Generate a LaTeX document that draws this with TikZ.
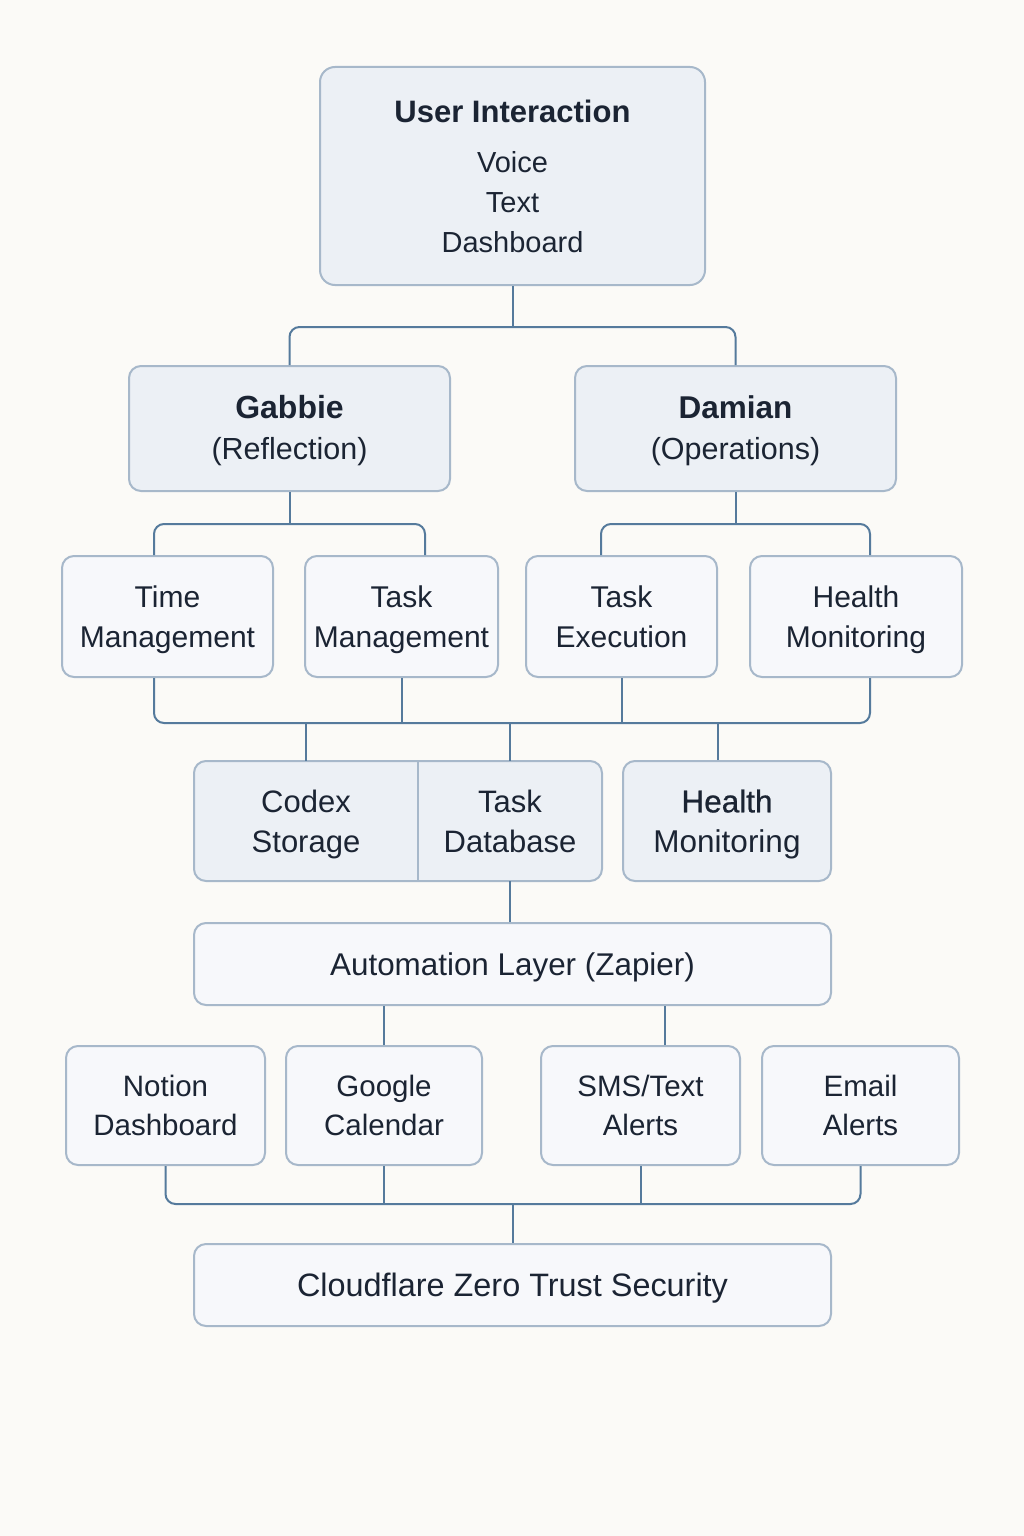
\documentclass[tikz,border=0pt]{standalone}
\usepackage{fontspec}
\setmainfont{Liberation Sans}
\newfontface\medf[FakeBold=0.7]{Liberation Sans}
\usetikzlibrary{calc}
\definecolor{bgc}{HTML}{FBFAF7}
\definecolor{darkfill}{HTML}{ECF0F5}
\definecolor{lightfill}{HTML}{F7F8FB}
\definecolor{edgec}{HTML}{A7B8CA}
\definecolor{wirec}{HTML}{557A9C}
\definecolor{ink}{HTML}{1B2433}
\newcommand{\titlef}{\fontsize{31}{40}\selectfont\bfseries}
\newcommand{\fs}[2]{\fontsize{#1}{#2}\selectfont}
\newcommand{\sT}{\rule[-0.25em]{0pt}{1.22em}}
\newcommand{\two}[2]{{\sT #1}\\{\sT #2}}
\begin{document}
\begin{tikzpicture}[x=1pt,y=-1pt,
 box/.style={draw=edgec, line width=2pt, rounded corners=12pt, inner sep=0pt, align=center, text=ink, font=\fs{29}{40}},
 darkbox/.style={box, fill=darkfill},
 lightbox/.style={box, fill=lightfill},
 plain/.style={inner sep=0pt, align=center, text=ink, font=\fs{29}{40}},
 wire/.style={draw=wirec, line width=2pt},
 bus/.style={wire, rounded corners=10pt}]
\useasboundingbox (0,0) rectangle (1024,1536);
\fill[bgc] (0,0) rectangle (1024,1536);

% level 1
\node[darkbox, minimum width=385pt, minimum height=218pt, rounded corners=15pt] (ui) at (512.5,176)
 {{\titlef User Interaction}\\[10pt]Voice\\Text\\Dashboard};

% level 2
\node[darkbox, minimum width=321pt, minimum height=125pt, font=\fs{30.5}{41}] (gabbie) at (289.5,428.5)
 {\two{\fs{32}{41}\bfseries Gabbie}{(Reflection)}};
\node[darkbox, minimum width=321pt, minimum height=125pt, font=\fs{30.5}{41}] (damian) at (735.5,428.5)
 {\two{\fs{31.5}{41}\bfseries Damian}{(Operations)}};

% level 3
\tikzset{row3/.style={lightbox, minimum height=121pt, font=\fs{30}{39.5}}}
\node[row3, minimum width=211pt] (tm) at (167.5,616.5) {\two{Time}{Management}};
\node[row3, minimum width=193pt] (tk) at (401.5,616.5) {\two{Task}{Management}};
\node[row3, minimum width=191pt] (te) at (621.5,616.5) {\two{Task}{Execution}};
\node[row3, minimum width=212pt] (hm) at (856,616.5) {\two{Health}{Monitoring}};

% level 4
\node[darkbox, minimum width=408pt, minimum height=120pt] (store) at (398,821) {};
\node[plain, minimum width=224pt, minimum height=120pt, font=\fs{31}{40}] (codex) at (306,821) {\two{Codex}{Storage}};
\node[plain, minimum width=184pt, minimum height=120pt, font=\fs{31}{40}] (taskdb) at (510,821) {\two{Task}{Database}};
\draw[draw=edgec, line width=2pt] (codex.north east) -- (codex.south east);
\node[darkbox, minimum width=208pt, minimum height=120pt, font=\fs{31.5}{40}] (hm2) at (727,821)
 {\two{\medf Health}{Monitoring}};

% level 5
\node[lightbox, minimum width=637pt, minimum height=82pt, font=\fs{31.4}{40}] (auto) at (512.5,964) {\sT Automation Layer (Zapier)};

% level 6
\tikzset{row6/.style={lightbox, minimum height=119pt, font=\fs{29.5}{39}}}
\node[row6, minimum width=199pt] (nd) at (165.5,1105.5) {\two{Notion}{Dashboard}};
\node[row6, minimum width=196pt] (gc) at (384,1105.5) {\two{Google}{Calendar}};
\node[row6, minimum width=199pt] (sms) at (640.5,1105.5) {\two{SMS/Text}{Alerts}};
\node[row6, minimum width=197pt] (em) at (860.5,1105.5) {\two{Email}{Alerts}};

% level 7
\node[lightbox, minimum width=637pt, minimum height=82pt, font=\fs{32.4}{40}] (cf) at (512.5,1285) {\sT Cloudflare Zero Trust Security};

% connectors level 1 -> 2
\coordinate (j1) at (512.5,327);
\draw[wire] (ui.south) -- (j1);
\draw[bus] (gabbie.north) |- (j1) -| (damian.north);

% level 2 -> 3
\coordinate (j2) at (289.5,524);
\coordinate (j3) at (735.5,524);
\coordinate (tmin) at ($(tm.north)+(-13.5,0)$);
\coordinate (tkin) at ($(tk.north)+(23.5,0)$);
\coordinate (tein) at ($(te.north)+(-20.5,0)$);
\coordinate (hmin) at ($(hm.north)+(14,0)$);
\draw[wire] (gabbie.south) -- (j2);
\draw[bus] (tmin) |- (j2) -| (tkin);
\draw[wire] (damian.south) -- (j3);
\draw[bus] (tein) |- (j3) -| (hmin);

% level 3 -> bus -> 4
\coordinate (b1) at (512,723);
\coordinate (tmout) at ($(tm.south)+(-13.5,0)$);
\coordinate (hmout) at ($(hm.south)+(14,0)$);
\draw[bus] (tmout) |- (b1) -| (hmout);
\draw[wire] (tk.south) -- (tk.south |- b1);
\draw[wire] (te.south) -- (te.south |- b1);
\draw[wire] (codex.north) -- (codex.north |- b1);
\draw[wire] (taskdb.north) -- (taskdb.north |- b1);
\coordinate (hm2in) at ($(hm2.north)+(-9,0)$);
\draw[wire] (hm2in) -- (hm2in |- b1);

% level 4 -> 5
\draw[wire] (taskdb.south) -- (taskdb.south |- auto.north);

% level 5 -> 6
\draw[wire] (gc.north) -- (gc.north |- auto.south);
\coordinate (smsin) at ($(sms.north)+(24.5,0)$);
\draw[wire] (smsin) -- (smsin |- auto.south);

% level 6 -> 7
\coordinate (b2) at (512.5,1204);
\draw[bus] (nd.south) |- (b2) -| (em.south);
\draw[wire] (gc.south) -- (gc.south |- b2);
\draw[wire] (sms.south) -- (sms.south |- b2);
\draw[wire] (b2) -- (cf.north);
\end{tikzpicture}
\end{document}
